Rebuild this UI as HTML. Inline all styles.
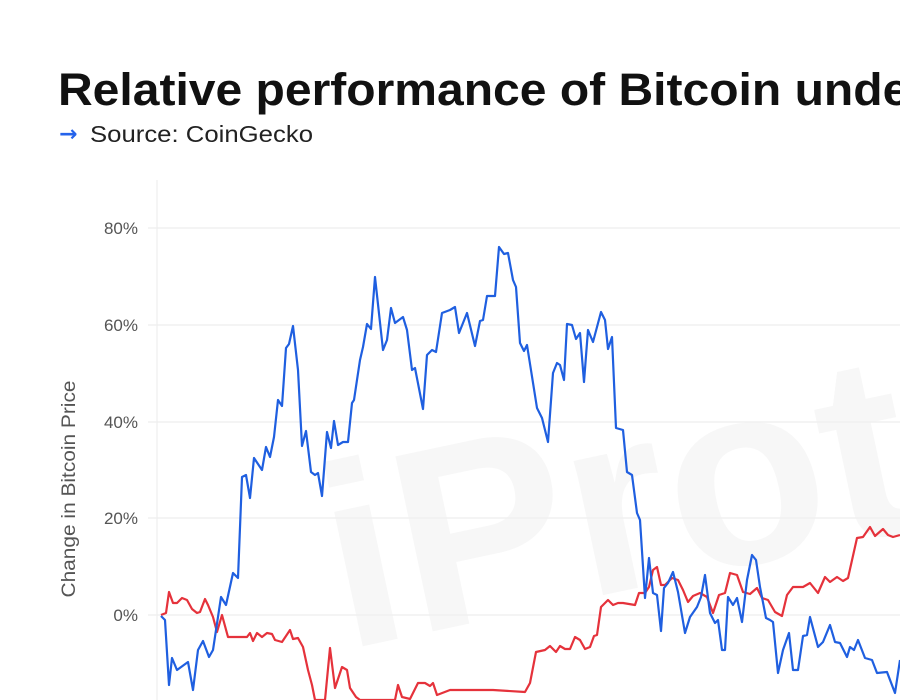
<!DOCTYPE html>
<html><head><meta charset="utf-8"><style>
html,body{margin:0;padding:0;background:#fff;width:900px;height:700px;overflow:hidden}
body{position:relative;font-family:"Liberation Sans",sans-serif}
svg{display:block}
</style></head><body>
<svg width="900" height="700" viewBox="0 0 900 700" xmlns="http://www.w3.org/2000/svg" style="position:absolute;left:0;top:0;overflow:hidden">
<text x="345" y="650" font-family="Liberation Sans" font-weight="bold" font-size="260" fill="#f7f7f7" transform="rotate(-12 345 650)">iProto</text>
<text x="58" y="105" font-family="Liberation Sans" font-weight="bold" font-size="45" fill="#111" textLength="870" lengthAdjust="spacingAndGlyphs">Relative performance of Bitcoin under</text>
<text x="59" y="141" font-family="DejaVu Sans" font-weight="bold" font-size="22" fill="#2563eb">→</text>
<text x="90" y="142" font-family="Liberation Sans" font-size="23" fill="#222" textLength="223" lengthAdjust="spacingAndGlyphs">Source: CoinGecko</text>
<g stroke="#eeeeee" stroke-width="1.2">
<line x1="148" y1="228" x2="900" y2="228"/>
<line x1="148" y1="325" x2="900" y2="325"/>
<line x1="148" y1="422" x2="900" y2="422"/>
<line x1="148" y1="518" x2="900" y2="518"/>
<line x1="148" y1="615" x2="900" y2="615"/>
<line x1="157" y1="180" x2="157" y2="700"/>
</g>
<g font-family="Liberation Sans" font-size="17" fill="#555" text-anchor="end">
<text x="138" y="234">80%</text>
<text x="138" y="331">60%</text>
<text x="138" y="428">40%</text>
<text x="138" y="524">20%</text>
<text x="138" y="621">0%</text>
</g>
<text x="0" y="0" font-family="Liberation Sans" font-size="19" fill="#555" text-anchor="middle" textLength="217" lengthAdjust="spacingAndGlyphs" transform="translate(75 489) rotate(-90)">Change in Bitcoin Price</text>
<polyline fill="none" stroke="#e5323b" stroke-width="2.2" stroke-linejoin="round" points="161,615 166,613 169,592 173,603 177,603 182,598 187,600 192,609 197,613 200,612 205,599 208,605 213,617 217,632 222,615 228,637 247,637 250,633 253,641 257,633 262,637 267,633 272,634 275,640 282,642 290,630 293,639 298,638 303,647 308,670 312,685 315,700 325,700 330,648 335,688 342,667 347,670 350,688 356,697 360,700 395,700 398,685 402,697 410,699 418,683 425,683 430,686 433,683 437,695 450,690 493,690 525,692 530,683 536,652 545,650 550,646 556,652 560,646 565,649 570,649 575,637 580,640 585,649 590,647 594,636 597,635 601,607 608,600 613,605 618,603 623,603 635,605 639,593 645,593 649,587 653,570 657,567 661,585 665,585 672,578 678,580 683,590 688,602 693,596 700,593 707,597 713,613 719,595 725,593 730,573 737,575 743,592 750,594 757,588 762,598 768,600 775,612 782,616 787,595 793,587 803,587 810,583 818,593 825,577 830,582 837,577 843,581 848,578 857,538 863,537 870,527 875,536 883,529 888,535 893,537 900,535"/>
<polyline fill="none" stroke="#1f5fe0" stroke-width="2.2" stroke-linejoin="round" points="161,616 165,620 169,685 172,658 177,670 188,662 193,690 198,650 203,641 209,657 213,650 221,597 226,605 233,573 238,578 242,477 246,475 250,498 254,458 262,470 266,447 270,457 274,437 278,400 282,406 286,348 289,344 293,326 298,370 302,446 306,431 311,472 315,475 318,473 322,496 327,432 331,448 334,421 338,445 343,442 348,442 352,403 354,400 360,360 363,347 367,324 371,329 375,277 383,350 387,340 391,308 395,323 403,317 407,330 412,370 415,368 423,409 427,355 432,350 436,352 442,313 450,310 455,307 459,333 467,313 475,346 480,321 483,320 487,296 495,296 499,247 504,254 508,253 513,280 516,287 520,343 524,351 527,345 537,408 542,418 548,442 553,373 557,363 560,365 564,380 567,324 572,325 576,339 580,333 584,382 588,330 593,342 601,312 605,320 608,349 612,337 616,428 623,430 627,472 632,475 637,513 640,520 645,598 649,558 653,593 657,595 661,631 664,588 668,583 673,572 678,592 685,633 690,617 697,607 701,597 705,575 710,613 715,623 718,620 722,650 725,650 728,597 733,605 737,598 742,622 747,580 752,555 756,560 760,587 766,618 770,620 773,622 778,673 783,650 789,633 793,670 798,670 803,636 807,635 810,617 818,647 823,642 830,625 835,642 840,643 847,657 850,647 854,650 858,640 865,658 872,660 877,673 887,672 895,693 900,660"/>
</svg>
</body></html>
